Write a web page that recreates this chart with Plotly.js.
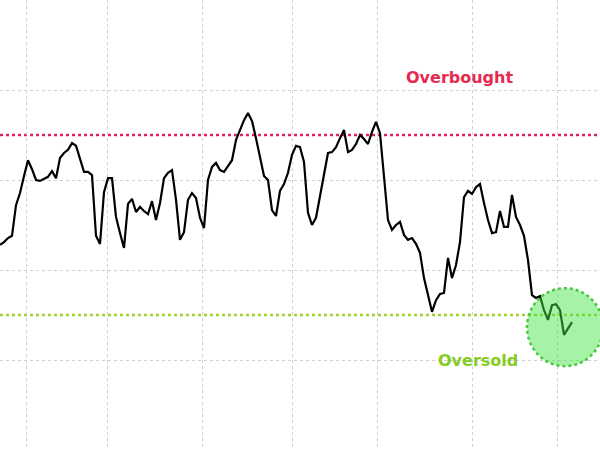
<!DOCTYPE html>
<html>
<head>
<meta charset="utf-8">
<script src="https://cdn.plot.ly/plotly-3.0.1.min.js"></script>
<style>html,body{margin:0;padding:0;background:#fff;}#chart{width:600px;height:450px;}</style>
</head>
<body>
<div id="chart"></div>
<script>
// RSI values, one per trading day
const rsiValues = [
  45.6, 46.2, 47.1, 47.6, 54.4, 57.1, 60.9, 64.4, 62.4, 60.0,
  59.8, 60.2, 60.7, 62.0, 60.4, 64.9, 66.0, 66.7, 68.2, 67.6,
  64.4, 61.8, 61.8, 61.1, 47.6, 45.8, 57.3, 60.4, 60.4, 51.8,
  48.2, 44.9, 54.7, 55.8, 52.9, 54.0, 53.1, 52.4, 55.3, 51.1,
  54.9, 60.4, 61.6, 62.2, 55.6, 46.7, 48.4, 55.6, 57.1, 56.0,
  51.6, 49.3, 60.0, 62.9, 63.8, 62.2, 61.8, 63.1, 64.4, 68.9,
  71.1, 73.3, 74.9, 73.1, 69.3, 64.9, 60.9, 60.0, 53.3, 52.0,
  57.6, 59.1, 61.6, 65.6, 67.6, 67.3, 64.0, 52.7, 50.0, 51.6,
  56.2, 61.1, 66.0, 66.2, 67.3, 69.3, 71.1, 66.2, 66.7, 68.0,
  70.0, 69.1, 68.0, 70.7, 72.9, 70.4, 60.0, 51.1, 48.9, 50.0,
  50.7, 47.8, 46.7, 47.1, 45.8, 43.8, 38.2, 34.7, 30.7, 33.3,
  34.7, 34.9, 42.7, 38.2, 41.1, 46.2, 56.2, 57.6, 56.9, 58.4,
  59.1, 54.9, 51.1, 48.2, 48.4, 53.1, 49.6, 49.6, 56.7, 51.8,
  50.0, 47.6, 42.2, 34.4, 33.8, 34.2, 31.1, 28.9, 32.2, 32.4,
  31.1, 25.6, 27.1, 28.4
];
const dayIndex = rsiValues.map((v, i) => i);

// month boundaries (vertical grid) and RSI levels (horizontal grid)
const monthTicks = [6.5, 26.75, 50.5, 73, 94.25, 118, 139.25];
const levelTicks = [0, 20, 40, 60, 80, 99.8];
const overboughtLevel = 70;
const oversoldLevel = 30;
const overboughtLabel = "Overbought";
const oversoldLabel = "Oversold";
// highlighted latest point region
const highlightX = 141.25;
const highlightY = 27.3;

const trace = {
  x: dayIndex,
  y: rsiValues,
  type: 'scatter',
  mode: 'lines',
  line: {color: '#000000', width: 2.2},
  hoverinfo: 'skip'
};

const layout = {
  width: 600,
  height: 450,
  margin: {l: 0, r: 0, t: 0, b: 0},
  paper_bgcolor: '#ffffff',
  plot_bgcolor: '#ffffff',
  showlegend: false,
  xaxis: {
    range: [0, 150],
    tickvals: monthTicks,
    showticklabels: false,
    ticks: '',
    showgrid: true,
    gridcolor: '#d0d0d0',
    griddash: 'dot',
    gridwidth: 1,
    zeroline: false,
    showline: false
  },
  yaxis: {
    range: [0, 100],
    tickvals: levelTicks,
    showticklabels: false,
    ticks: '',
    showgrid: true,
    gridcolor: '#d0d0d0',
    griddash: 'dot',
    gridwidth: 1,
    zeroline: false,
    showline: false
  },
  shapes: [
    {type: 'line', xref: 'paper', x0: 0, x1: 1, yref: 'y', y0: overboughtLevel, y1: overboughtLevel,
     line: {color: '#e0245a', width: 2.5, dash: 'dot'}, layer: 'below'},
    {type: 'line', xref: 'paper', x0: 0, x1: 1, yref: 'y', y0: oversoldLevel, y1: oversoldLevel,
     line: {color: '#9ed12a', width: 2.5, dash: 'dot'}, layer: 'below'},
    {type: 'circle', xref: 'x', yref: 'y', xsizemode: 'pixel', ysizemode: 'pixel',
     xanchor: highlightX, yanchor: highlightY, x0: -38, x1: 38, y0: -39, y1: 39,
     fillcolor: 'rgba(70,228,70,0.48)', line: {color: 'rgb(70,200,60)', width: 2.5, dash: 'dot'},
     layer: 'above'}
  ],
  annotations: [
    {x: 114.75, y: 82.7, xref: 'x', yref: 'y', text: overboughtLabel, showarrow: false,
     font: {family: 'DejaVu Sans, Verdana, sans-serif', size: 16, color: '#e8294f', weight: 'bold'}},
    {x: 119.5, y: 19.8, xref: 'x', yref: 'y', text: oversoldLabel, showarrow: false,
     font: {family: 'DejaVu Sans, Verdana, sans-serif', size: 16, color: '#84cc1e', weight: 'bold'}}
  ]
};

Plotly.newPlot('chart', [trace], layout, {staticPlot: true, displayModeBar: false});
</script>
</body>
</html>
